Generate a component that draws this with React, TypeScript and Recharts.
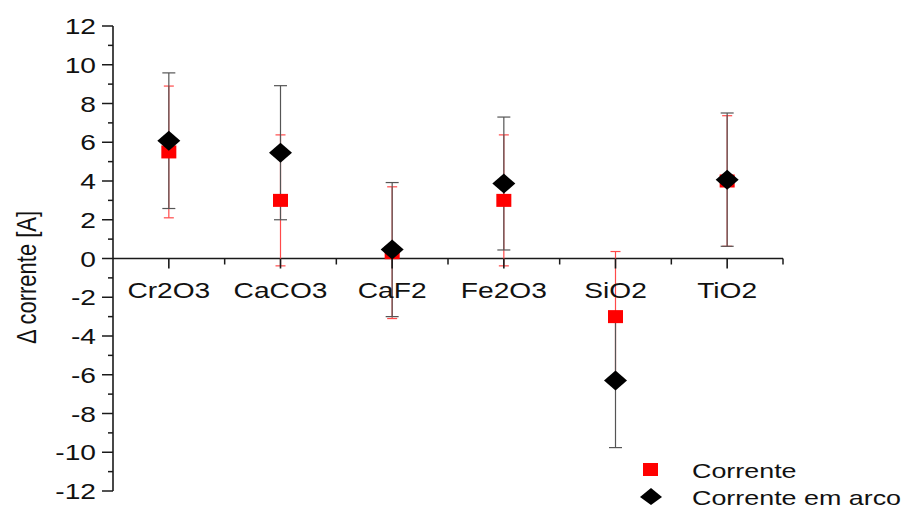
import {
  ScatterChart,
  Scatter,
  XAxis,
  YAxis,
  ErrorBar,
  ReferenceLine,
  ReferenceDot,
  Legend,
} from "recharts";

// categorias do eixo x
const categories = ["Cr2O3", "CaCO3", "CaF2", "Fe2O3", "SiO2", "TiO2"];
const categoryPositions = [1, 2, 3, 4, 5, 6];
const xMinorTicks = [1.5, 2.5, 3.5, 4.5, 5.5, 6.5];

// series
const correnteValues = [5.5, 3.0, 0.3, 3.0, -3.0, 4.0];
const correnteErrors = [3.4, 3.38, 3.4, 3.38, 3.36, 3.37];
const arcoValues = [6.08, 5.46, 0.46, 3.87, -6.3, 4.07];
const arcoErrors = [3.5, 3.46, 3.46, 3.43, 3.46, 3.44];

// ticks do eixo y
const yMajorTicks = [-12, -10, -8, -6, -4, -2, 0, 2, 4, 6, 8, 10, 12];
const yMinorTicks = [-11, -9, -7, -5, -3, -1, 1, 3, 5, 7, 9, 11];
const yTicks = [...yMajorTicks, ...yMinorTicks].sort((a, b) => a - b);

const FONT = "'Liberation Sans', Arial, sans-serif";
const STRETCH = 1.28;
const AXIS = "#1a1a1a";

const correnteData = categories.map((name, i) => ({
  name,
  x: categoryPositions[i],
  y: correnteValues[i],
  err: correnteErrors[i],
}));

const arcoData = categories.map((name, i) => ({
  name,
  x: categoryPositions[i],
  y: arcoValues[i],
  err: arcoErrors[i],
}));

const YTick = (props: any) => {
  const { x, y, payload } = props;
  const major = payload.value % 2 === 0;
  return (
    <g>
      <line x1={x - (major ? 11 : 5)} x2={x} y1={y} y2={y} stroke={AXIS} strokeWidth={1.5} />
      {major && (
        <text
          transform={`translate(${x - 17},${y + 8}) scale(${STRETCH},1)`}
          textAnchor="end"
          fontSize={22}
          fontFamily={FONT}
          fill="#111"
        >
          {payload.value}
        </text>
      )}
    </g>
  );
};

const YTitle = (props: any) => {
  const vb = props.viewBox || { x: 0, y: 26, width: 113, height: 464 };
  const cx = vb.x + 26;
  const cy = vb.y + vb.height / 2 + 19;
  return (
    <text
      transform={`translate(${cx},${cy}) rotate(-90) scale(1,${STRETCH})`}
      textAnchor="middle"
      dominantBaseline="central"
      fontSize={22}
      fontFamily={FONT}
      fill="#111"
    >
      Δ corrente [A]
    </text>
  );
};

const CategoryTick = (props: any) => {
  const { cx, cy, label } = props;
  return (
    <g>
      <line x1={cx} x2={cx} y1={cy} y2={cy + 10} stroke={AXIS} strokeWidth={1.6} />
      <text
        transform={`translate(${cx},${cy + 39}) scale(${STRETCH},1)`}
        textAnchor="middle"
        fontSize={22}
        fontFamily={FONT}
        fill="#111"
      >
        {label}
      </text>
    </g>
  );
};

const MinorTick = (props: any) => {
  const { cx, cy } = props;
  return <line x1={cx} x2={cx} y1={cy} y2={cy + 6} stroke={AXIS} strokeWidth={1.5} />;
};

const Square = (props: any) => {
  const { cx, cy } = props;
  return <rect x={cx - 7.5} y={cy - 6.5} width={15} height={13} fill="#ff0000" />;
};

const Diamond = (props: any) => {
  const { cx, cy } = props;
  return (
    <polygon
      points={`${cx},${cy - 10} ${cx + 11.5},${cy} ${cx},${cy + 10} ${cx - 11.5},${cy}`}
      fill="#000"
    />
  );
};

const LegendBox = () => (
  <svg width={283} height={60}>
    <rect x={13} y={13} width={15} height={13} fill="#ff0000" />
    <text
      transform={`translate(62,28) scale(${STRETCH},1)`}
      fontSize={21}
      fontFamily={FONT}
      fill="#111"
    >
      Corrente
    </text>
    <polygon points="21,38 32,47 21,55 10,47" fill="#000" />
    <text
      transform={`translate(62,55) scale(${STRETCH},1)`}
      fontSize={21}
      fontFamily={FONT}
      fill="#111"
    >
      Corrente em arco
    </text>
  </svg>
);

export default function App() {
  return (
    <div style={{ position: "absolute", left: 0, top: 0, background: "#fff" }}>
      <ScatterChart
        width={913}
        height={510}
        margin={{ top: 26, right: 130, bottom: 19, left: 0 }}
      >
        <XAxis type="number" dataKey="x" domain={[0.5, 6.5]} hide />
        <YAxis
          type="number"
          dataKey="y"
          domain={[-12, 12]}
          ticks={yTicks}
          interval={0}
          width={113}
          tickSize={0}
          tickMargin={0}
          tickLine={false}
          tick={<YTick />}
          axisLine={{ stroke: AXIS, strokeWidth: 1.6 }}
          label={<YTitle />}
        />

        {/* eixo x cruzando em zero */}
        <ReferenceLine
          segment={[
            { x: 0.5, y: 0 },
            { x: 6.5, y: 0 },
          ]}
          stroke={AXIS}
          strokeWidth={1.6}
        />
        {categories.map((c, i) => (
          <ReferenceDot
            key={c}
            x={categoryPositions[i]}
            y={0}
            r={0}
            shape={(p: any) => <CategoryTick {...p} label={c} />}
          />
        ))}
        {xMinorTicks.map((t) => (
          <ReferenceDot key={t} x={t} y={0} r={0} shape={(p: any) => <MinorTick {...p} />} />
        ))}

        <Scatter name="Corrente" data={correnteData} shape={<Square />} isAnimationActive={false}>
          <ErrorBar
            dataKey="err"
            direction="y"
            width={5}
            stroke="#ff4a4a"
            strokeWidth={1.2}
            isAnimationActive={false}
          />
        </Scatter>
        <Scatter name="Corrente em arco" data={arcoData} shape={<Diamond />} isAnimationActive={false}>
          <ErrorBar
            dataKey="err"
            direction="y"
            width={6.5}
            stroke="#555"
            strokeWidth={1.2}
            isAnimationActive={false}
          />
        </Scatter>

        <Legend
          layout="vertical"
          align="center"
          verticalAlign="middle"
          wrapperStyle={{ left: 630, top: 450, width: 283, height: 60 }}
          content={() => <LegendBox />}
        />
      </ScatterChart>
    </div>
  );
}
